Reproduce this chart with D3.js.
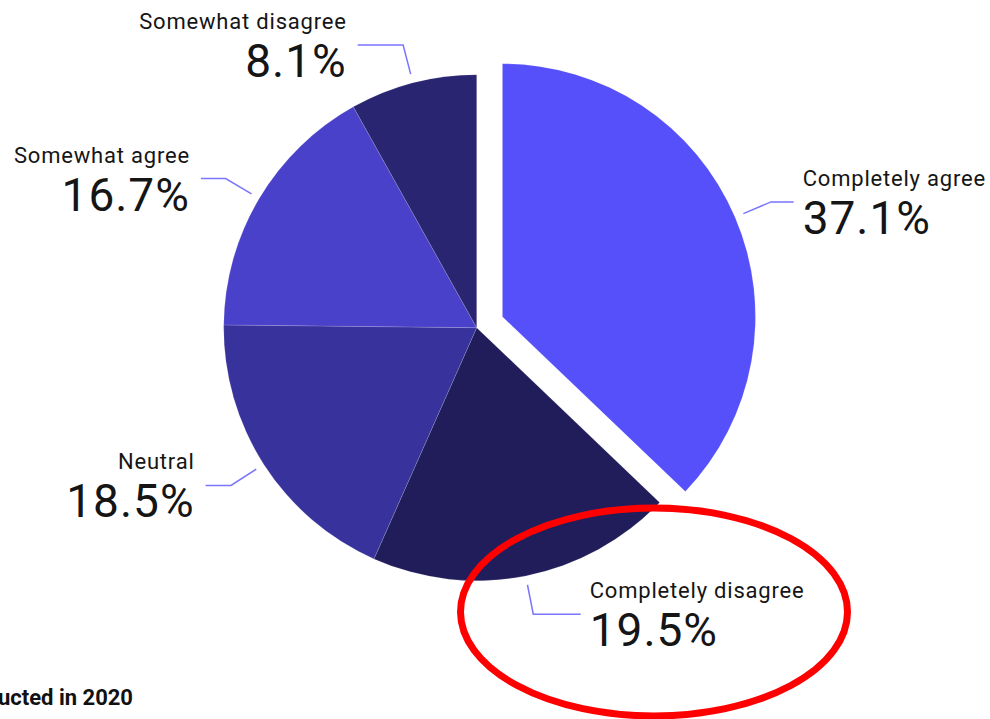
<!DOCTYPE html>
<html>
<head>
<meta charset="utf-8">
<script src="https://cdn.jsdelivr.net/npm/d3@7"></script>
<style>
  html, body { margin: 0; padding: 0; background: #fff; overflow: hidden; }
  svg { display: block; font-family: Roboto, "Noto Sans", sans-serif; }
  .name { font-size: 22px; letter-spacing: 0.8px; fill: #151515; }
  .value { font-size: 46px; letter-spacing: 1px; fill: #151515; }
  .leader { fill: none; stroke: #7b74ff; stroke-width: 1.5; }
  .note { font-size: 22px; font-weight: bold; fill: #111; }
</style>
</head>
<body>
<svg id="chart" width="990" height="719"></svg>
<script>
// answers, clockwise from 12 o'clock
const answers = ['Completely agree', 'Completely disagree', 'Neutral', 'Somewhat agree', 'Somewhat disagree'];
const shares = [37.1, 19.5, 18.5, 16.7, 8.1];
const sliceColors = ['#5650fb', '#211d5a', '#38329c', '#4941c9', '#2a2570'];
const exploded = ['Completely agree'];
const footnote = 'Survey conducted in 2020';

const chartSize = { width: 990, height: 719 };
const center = { x: 476.7, y: 327.7 };
const radius = 253;
const explodeBy = 28;

const svg = d3.select('#chart')
    .attr('width', chartSize.width)
    .attr('height', chartSize.height);

const g = svg.append('g')
    .attr('transform', `translate(${center.x},${center.y})`);

const rows = answers.map((a, i) => ({ answer: a, share: shares[i], color: sliceColors[i] }));

const pie = d3.pie().sort(null).value(d => d.share);
const arc = d3.arc().innerRadius(0).outerRadius(radius);

const arcs = pie(rows);
const midAngle = d => (d.startAngle + d.endAngle) / 2;
const shift = d => exploded.includes(d.data.answer) ? explodeBy : 0;
const polar = (a, r) => [Math.sin(a) * r, -Math.cos(a) * r];

const slice = g.selectAll('.slice')
    .data(arcs)
    .enter()
    .append('g')
    .attr('class', 'slice')
    .attr('transform', d => {
        const [dx, dy] = polar(midAngle(d), shift(d));
        return `translate(${dx},${dy})`;
    });

slice.append('path')
    .attr('d', arc)
    .attr('fill', d => d.data.color)
    .attr('stroke', 'rgba(255,255,255,0.18)')
    .attr('stroke-width', 0.8);

// leader lines + labels
const label = slice.append('g').attr('class', 'label');

label.each(function (d) {
    const a = midAngle(d);
    const right = Math.sin(a) >= 0;
    const [x1, y1] = polar(a, radius + 9);
    const [x2, y2] = polar(a, radius + 39);
    // labels near top/bottom get a longer horizontal run
    const run = 20 + 34 * (1 - Math.abs(Math.sin(a)));
    const x3 = x2 + (right ? run : -run);
    const sel = d3.select(this);

    sel.append('polyline')
        .attr('class', 'leader')
        .attr('points', [[x1, y1], [x2, y2], [x3, y2]].map(p => p.join(',')).join(' '));

    const tx = x3 + (right ? 9 : -11);
    const anchor = right ? 'start' : 'end';

    sel.append('text')
        .attr('class', 'name')
        .attr('x', tx)
        .attr('y', y2 - 16)
        .attr('text-anchor', anchor)
        .text(d.data.answer);

    sel.append('text')
        .attr('class', 'value')
        .attr('x', tx)
        .attr('y', y2 + 32)
        .attr('text-anchor', anchor)
        .text(d3.format('.1f')(d.data.share) + '%');
});

// red highlight ring
svg.append('ellipse')
    .attr('cx', 654)
    .attr('cy', 612)
    .attr('rx', 193.5)
    .attr('ry', 104)
    .attr('fill', 'none')
    .attr('stroke', '#ff0000')
    .attr('stroke-width', 7);

svg.append('text')
    .attr('class', 'note')
    .attr('x', 133)
    .attr('y', 705)
    .attr('text-anchor', 'end')
    .text(footnote);
</script>
</body>
</html>
